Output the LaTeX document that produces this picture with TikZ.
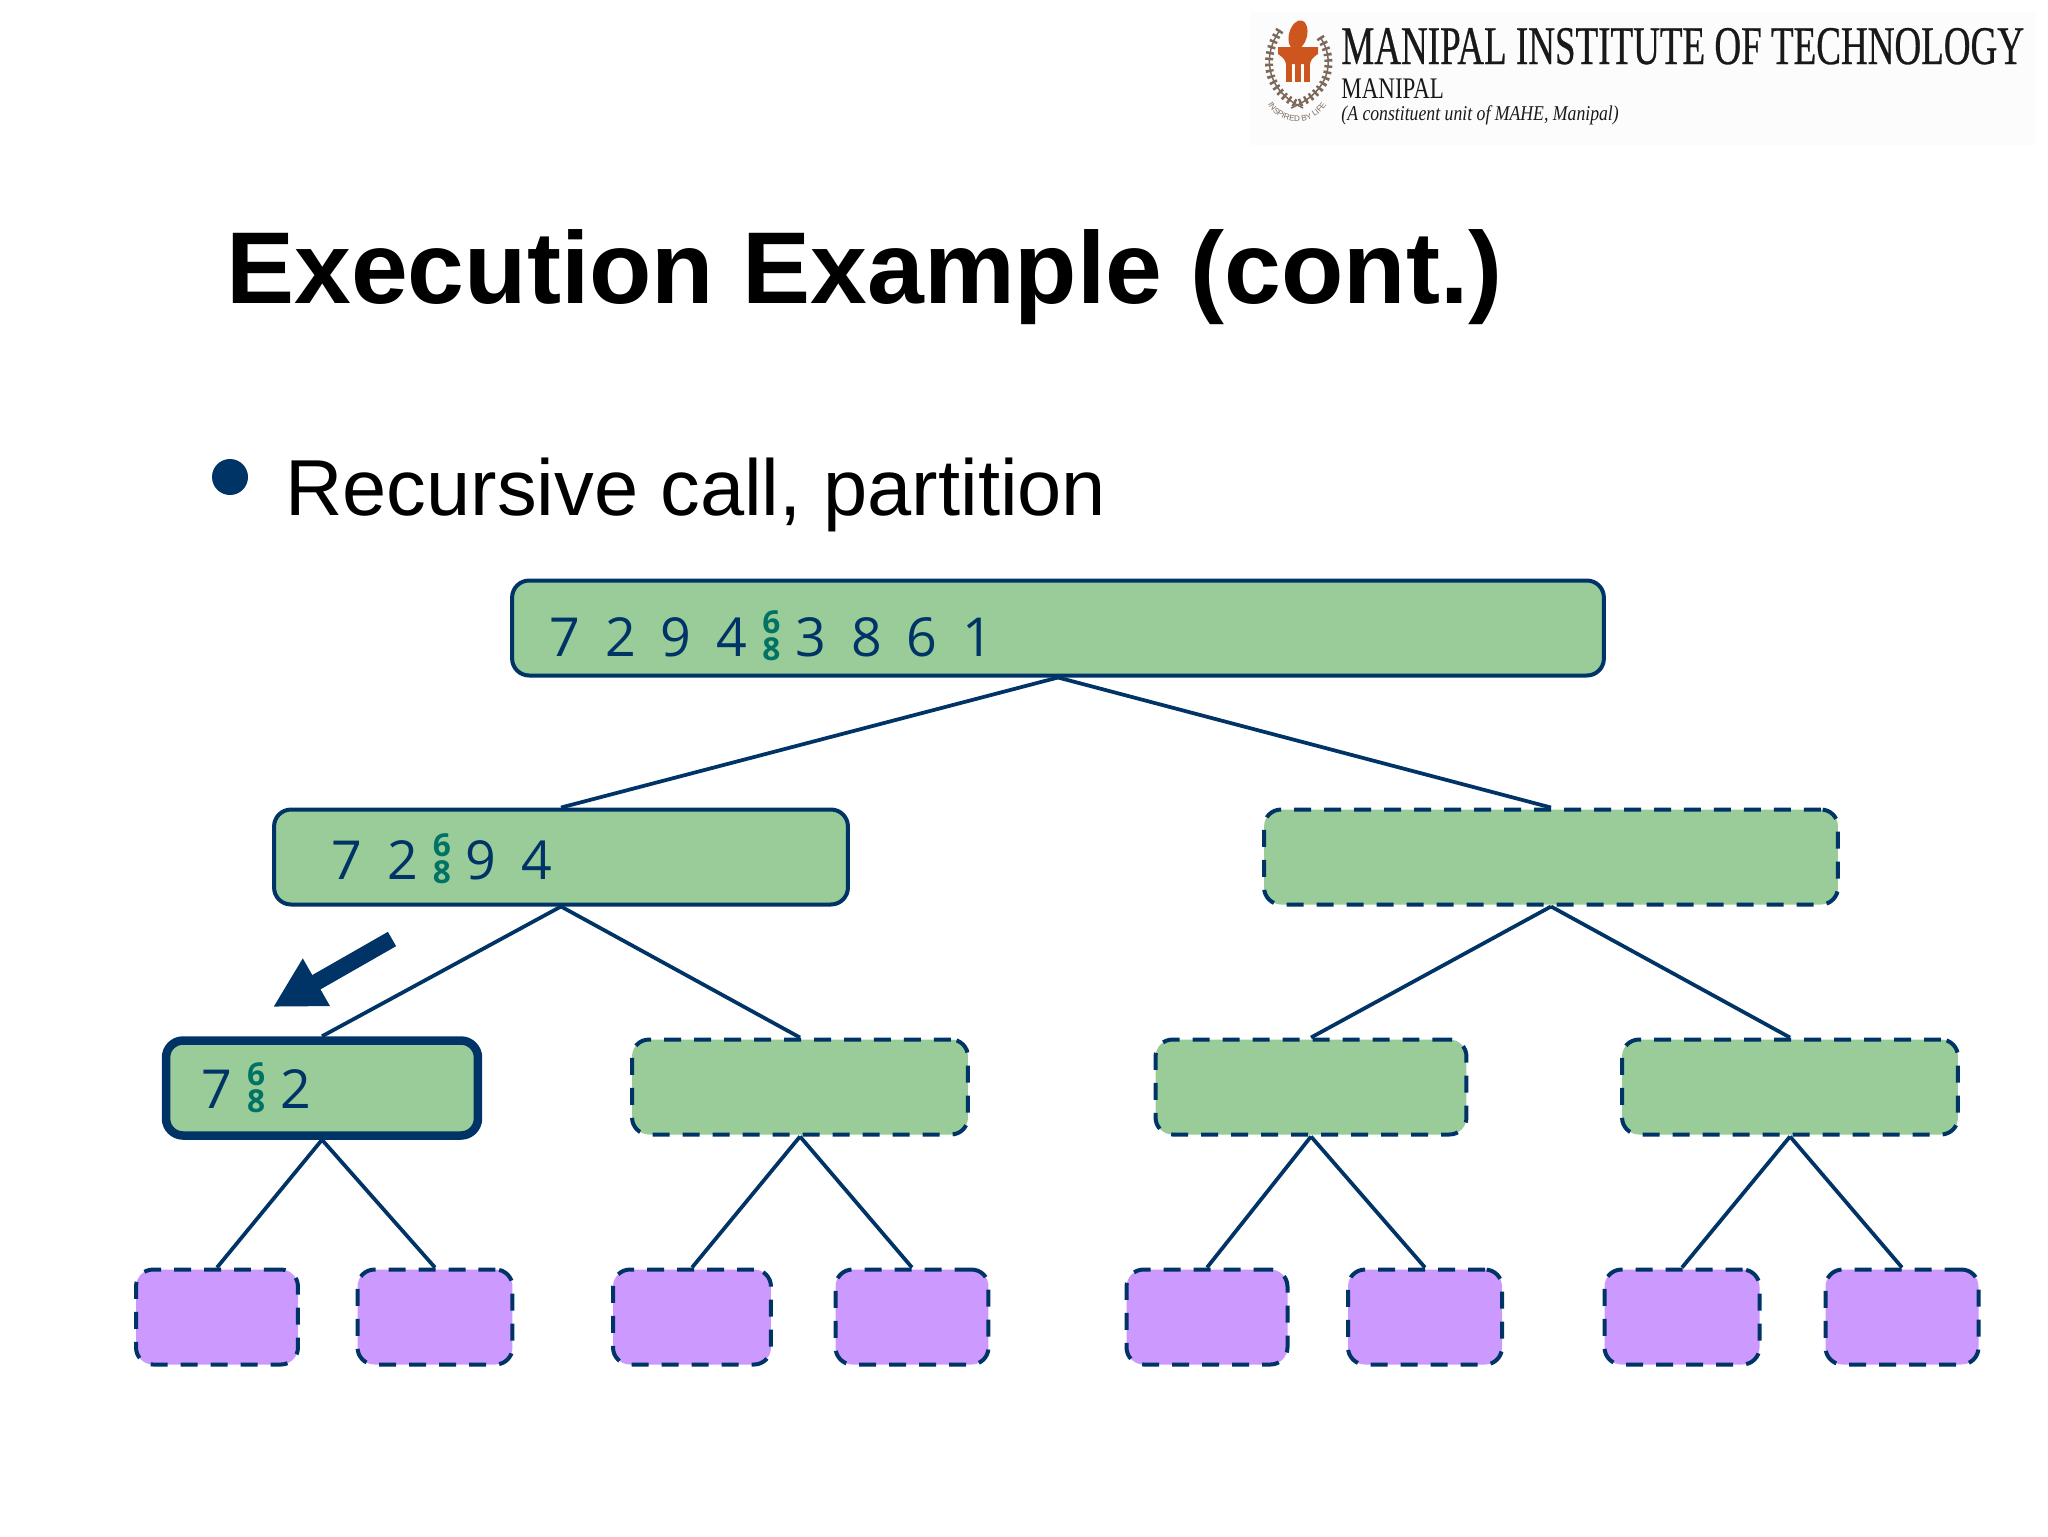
\documentclass[tikz,border=0pt]{standalone}
\usepackage{fontspec}
\usepackage{xcolor}
\usetikzlibrary{arrows.meta, decorations.text}
\setmainfont{Liberation Sans}
\newfontfamily\digitfont{Open Sans}
\newfontfamily\logobig[FakeStretch=0.68,FakeBold=0.5]{Liberation Serif}
\newfontfamily\logosmall[FakeStretch=0.77]{Liberation Serif}
\newfontfamily\logoital[FakeStretch=0.84]{Liberation Serif}
\definecolor{navy}{RGB}{0,51,102}
\definecolor{leafgreen}{RGB}{153,204,153}
\definecolor{leafpurple}{RGB}{204,153,255}
\definecolor{pivotgreen}{RGB}{0,115,100}
\definecolor{emblem}{RGB}{205,85,30}
\definecolor{laurel}{RGB}{125,105,90}
% digits of a partition, with pivot stack 6 over 8
\newcommand{\numfont}{\digitfont\fontsize{30.6pt}{30.6pt}\selectfont\spaceskip=0.5cm\relax}
\newcommand{\pivotstack}{%
  \hspace{0.3cm}{\color{pivotgreen}\digitfont\bfseries\fontsize{18pt}{18pt}\selectfont
    \raisebox{0.46cm}{\rlap{6}}\raisebox{-0.09cm}{8}}\hspace{0.3cm}}

\begin{document}
\begin{tikzpicture}[
    x=0.02cm, y=-0.02cm,
    part/.style={draw=navy, line width=0.08cm, rounded corners=0.34cm, minimum height=#1, inner sep=0pt},
    call/.style={part=1.9cm, fill=leafgreen},
    active/.style={part=1.9cm, fill=leafgreen, line width=0.17cm},
    todo/.style={part=1.9cm, fill=leafgreen, dash pattern=on 0.34cm off 0.26cm},
    base/.style={part=1.9cm, fill=leafpurple, dash pattern=on 0.34cm off 0.26cm},
    edge/.style={draw=navy, line width=0.075cm},
    num/.style={anchor=base west, inner sep=0pt, text=navy, font=\numfont},
    logo/.style={anchor=base west, inner sep=0pt, text=black!90}
  ]
    \useasboundingbox (0,0) rectangle (2048,1536);
    \fill[white] (0,0) rectangle (2048,1536);

    % Logo
    \fill[black!1] (1250,12) rectangle (2036,145);
    \fill[emblem, rotate around={-15:(1298,35)}] (1298,35) ellipse (9 and 15);
    \fill[emblem] (1278,47) -- (1318,47) -- (1318,54) .. controls (1312,58) and (1311,60) .. (1310,64) -- (1286,64) .. controls (1285,60) and (1284,58) .. (1278,54) -- cycle;
    \fill[emblem] (1286,62) rectangle (1292,82);
    \fill[emblem] (1295,62) rectangle (1301,82);
    \fill[emblem] (1304,62) rectangle (1310,82);
    \draw[laurel, line width=0.03cm] (1280,30) .. controls (1262,55) and (1265,90) .. (1303,108);
    \draw[laurel, line width=0.03cm] (1320,37) .. controls (1336,60) and (1330,92) .. (1291,108);
    \draw[laurel, line width=0.16cm, dash pattern=on 0.05cm off 0.07cm] (1280,30) .. controls (1262,55) and (1265,90) .. (1297,104);
    \draw[laurel, line width=0.16cm, dash pattern=on 0.05cm off 0.07cm] (1320,37) .. controls (1336,60) and (1330,92) .. (1297,104);
    \path[decorate, decoration={text along path, text={|\fontsize{4.6pt}{4.6pt}\selectfont\rmfamily\color{laurel}|INSPIRED BY LIFE}, text align=center}]
      (1264,96) .. controls (1274,130) and (1320,130) .. (1330,96);
    \node[logo, font=\logobig\fontsize{31pt}{31pt}\selectfont] (logotitle) at (1341,64) {MANIPAL INSTITUTE OF TECHNOLOGY};
    \node[logo, font=\logosmall\fontsize{17pt}{17pt}\selectfont] (logocity) at (1341,98) {MANIPAL};
    \node[logo, font=\logoital\itshape\fontsize{12pt}{12pt}\selectfont] (logounit) at (1341,120) {(A constituent unit of MAHE, Manipal)};

    % Heading
    \node[anchor=base west, inner sep=0pt, font=\bfseries\fontsize{58.1pt}{58.1pt}\selectfont] (heading) at (226,303) {Execution Example (cont.)};
    \fill[navy] (230,477) circle (18);
    \node[anchor=base west, inner sep=0pt, font=\fontsize{45.2pt}{45.2pt}\selectfont] (bullet) at (285,515) {Recursive call, partition};

    % Level 0
    \node[call, minimum width=21.84cm] (root) at (1058,628) {};
    \node[num] (rootnum) at (549,656) {7 2 9 4\pivotstack3 8 6 1};

    % Level 1
    \node[call, minimum width=11.48cm] (left) at (561,857) {};
    \node[todo, minimum width=11.48cm] (right) at (1551,857) {};
    \node[num] (leftnum) at (331,879) {7 2\pivotstack9 4};

    % Level 2
    \node[active, minimum width=6.24cm] (ll) at (322,1088) {};
    \node[todo, minimum width=6.72cm] (lr) at (800,1087) {};
    \node[todo, minimum width=6.22cm] (rl) at (1311,1087) {};
    \node[todo, minimum width=6.72cm] (rr) at (1790,1087) {};
    \node[num] (llnum) at (201,1108) {7\pivotstack2};

    % Level 3
    \node[base, minimum width=3.24cm] (lll) at (217,1317) {};
    \node[base, minimum width=3.10cm] (llr) at (435,1317) {};
    \node[base, minimum width=3.16cm] (lrl) at (692,1317) {};
    \node[base, minimum width=3.06cm] (lrr) at (912,1317) {};
    \node[base, minimum width=3.22cm] (rll) at (1207,1317) {};
    \node[base, minimum width=3.08cm] (rlr) at (1425,1317) {};
    \node[base, minimum width=3.10cm] (rrl) at (1682,1317) {};
    \node[base, minimum width=3.06cm] (rrr) at (1902,1317) {};

    % Edges
    \draw[edge] (root.south) -- (left.north);
    \draw[edge] (root.south) -- (right.north);
    \draw[edge] (left.south) -- (ll.north);
    \draw[edge] (left.south) -- (lr.north);
    \draw[edge] (right.south) -- (rl.north);
    \draw[edge] (right.south) -- (rr.north);
    \draw[edge] (ll.south) -- (lll.north);
    \draw[edge] (ll.south) -- (llr.north);
    \draw[edge] (lr.south) -- (lrl.north);
    \draw[edge] (lr.south) -- (lrr.north);
    \draw[edge] (rl.south) -- (rll.north);
    \draw[edge] (rl.south) -- (rlr.north);
    \draw[edge] (rr.south) -- (rrl.north);
    \draw[edge] (rr.south) -- (rrr.north);

    % Pointer to the active call
    \coordinate (ptrfrom) at (392,939);
    \coordinate (ptrto) at (273,1007);
    \draw[navy, line width=0.33cm, -{Triangle[length=1cm, width=1.02cm]}] (ptrfrom) -- (ptrto);
\end{tikzpicture}
\end{document}
